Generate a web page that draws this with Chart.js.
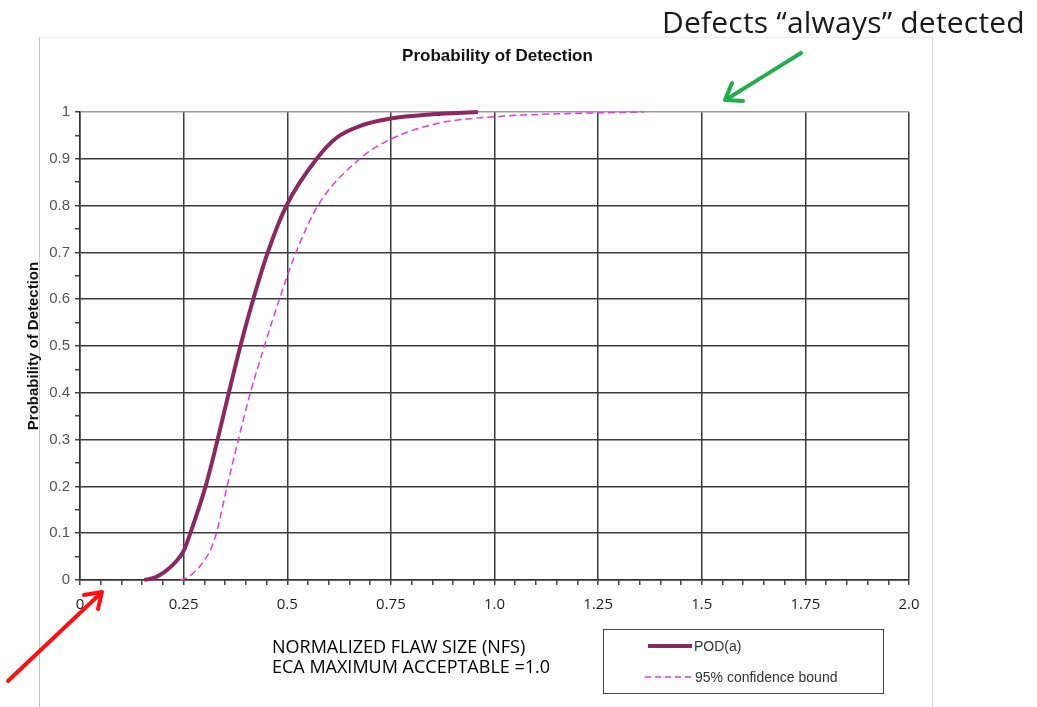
<!DOCTYPE html>
<html>
<head>
<meta charset="utf-8">
<title>Probability of Detection</title>
<script src="https://cdn.jsdelivr.net/npm/chart.js@4.4.1/dist/chart.umd.min.js"></script>
<style>
  body { margin: 0; background: #fff; }
  #wrap { position: relative; width: 1037px; height: 707px; overflow: hidden; background: #fff; }
  #wrap > * { position: absolute; }
  #frame { left: 39px; top: 37px; width: 892px; height: 700px; border-left: 1px solid #c4c4c4; border-top: 1px solid #ececec; border-right: 1px solid #d4d4d4; }
  #podChart { left: 0; top: 0; }
  #title { left: 83px; width: 829px; top: 46px; text-align: center; font: bold 17px/20px Arial, "Liberation Sans", sans-serif; color: #111; }
  #note { left: 662px; top: 7px; font: 30px/30px "Open Sans", sans-serif; letter-spacing: 0.2px; color: #1a1a1a; white-space: nowrap; }
  #nfs { left: 272px; top: 636px; font: 18px/20px "Open Sans", sans-serif; color: #000; white-space: nowrap; }
  #legend { left: 603px; top: 629px; width: 281px; height: 65px; box-sizing: border-box; border: 1.5px solid #444; }
  .lg { font: 14px/16px Arial, "Liberation Sans", sans-serif; color: #333; white-space: nowrap; }
  #lg1 { left: 694px; top: 638px; }
  #lg2 { left: 695px; top: 669px; }
  #marks { left: 0; top: 0; pointer-events: none; }
</style>
</head>
<body>
<div id="wrap">
  <div id="frame"></div>
  <canvas id="podChart" width="1037" height="707"></canvas>
  <div id="title">Probability of Detection</div>
  <div id="note">Defects “always” detected</div>
  <div id="nfs">NORMALIZED FLAW SIZE (NFS)<br>ECA MAXIMUM ACCEPTABLE =1.0</div>
  <div id="legend"></div>
  <div class="lg" id="lg1">POD(a)</div>
  <div class="lg" id="lg2">95% confidence bound</div>
  <svg id="marks" width="1037" height="707">
    <!-- legend samples -->
    <line x1="648" y1="646" x2="692" y2="646" stroke="#8c2860" stroke-width="4"/>
    <line x1="645" y1="677" x2="692" y2="677" stroke="#e03ce0" stroke-width="1.5" stroke-dasharray="6 4"/>
    <!-- arrows -->
    <g fill="none" stroke="#22ad4c" stroke-width="4" stroke-linecap="round" stroke-linejoin="round">
      <line x1="801" y1="53" x2="727" y2="99"/>
      <polyline points="732,83 725,100 743,101"/>
    </g>
    <g fill="none" stroke="#ff1010" stroke-width="4" stroke-linecap="round" stroke-linejoin="round">
      <line x1="8" y1="681" x2="100" y2="594"/>
      <polyline points="84,595 102,592 98,609"/>
    </g>
  </svg>
</div>

<script>
// POD(a) curve: normalized flaw size vs probability of detection
const podSize  = [0.155, 0.18, 0.205, 0.23, 0.25, 0.266, 0.303, 0.332, 0.359, 0.387, 0.418, 0.453, 0.498, 0.571, 0.619, 0.675, 0.75, 0.85, 0.96];
const podValue = [0, 0.005, 0.018, 0.038, 0.062, 0.10, 0.20, 0.30, 0.40, 0.50, 0.60, 0.70, 0.80, 0.90, 0.945, 0.970, 0.986, 0.995, 1.0];

// 95% lower confidence bound
const boundSize  = [0.242, 0.26, 0.28, 0.30, 0.315, 0.329, 0.355, 0.382, 0.411, 0.445, 0.481, 0.521, 0.574, 0.675, 0.75, 0.86, 1.0, 1.15, 1.36];
const boundValue = [0, 0.006, 0.02, 0.042, 0.065, 0.10, 0.20, 0.30, 0.40, 0.50, 0.60, 0.70, 0.80, 0.90, 0.942, 0.975, 0.99, 0.996, 1.0];

// tick labels (major ticks only, minor ticks every 0.05)
const xLabels = ['0', '0.25', '0.5', '0.75', '1.0', '1.25', '1.5', '1.75', '2.0'];
const yLabels = ['0', '0.1', '0.2', '0.3', '0.4', '0.5', '0.6', '0.7', '0.8', '0.9', '1'];

const toPoints = (xs, ys) => xs.map((x, i) => ({ x: x, y: ys[i] }));

// index of major tick, or -1 for a minor one
function majorIndex(value, step) {
  const k = value / step;
  return Math.abs(k - Math.round(k)) < 1e-6 ? Math.round(k) : -1;
}

const podChart = new Chart(document.getElementById('podChart'), {
  type: 'line',
  data: {
    datasets: [
      {
        label: 'POD(a)',
        data: toPoints(podSize, podValue),
        borderColor: '#8c2860',
        borderWidth: 4,
        pointRadius: 0,
        cubicInterpolationMode: 'monotone',
        clip: false,
      },
      {
        label: '95% confidence bound',
        data: toPoints(boundSize, boundValue),
        borderColor: '#e03ce0',
        borderWidth: 1.5,
        borderDash: [7, 4],
        pointRadius: 0,
        cubicInterpolationMode: 'monotone',
        clip: false,
      },
    ],
  },
  options: {
    responsive: false,
    animation: false,
    layout: { padding: { left: 21, top: 112, right: 128, bottom: 0 } },
    plugins: {
      legend: { display: false },
      title: { display: false },
      tooltip: { enabled: false },
    },
    scales: {
      x: {
        type: 'linear',
        min: 0,
        max: 2,
        afterFit: (scale) => {
          scale.height = 127;
          scale.paddingLeft = 0;
          scale.paddingRight = 0;
        },
        ticks: {
          stepSize: 0.05,
          autoSkip: false,
          maxRotation: 0,
          padding: 11,
          color: '#1e1e1e',
          font: { family: '"Open Sans"', size: 15 },
          callback: (value) => {
            const i = majorIndex(value, 0.25);
            return i >= 0 ? xLabels[i] : '';
          },
        },
        grid: {
          color: (ctx) => majorIndex(ctx.tick.value, 0.25) >= 0 ? '#3a3a3a' : 'rgba(0,0,0,0)',
          tickColor: '#444',
          lineWidth: 1.5,
          tickLength: 5,
        },
        border: { color: '#333', width: 1.5 },
      },
      y: {
        min: 0,
        max: 1,
        afterFit: (scale) => {
          scale.width = 59;
          scale.paddingTop = 0;
          scale.paddingBottom = 0;
        },
        ticks: {
          stepSize: 0.05,
          autoSkip: false,
          padding: 5,
          color: '#555',
          font: { family: 'Arial', size: 15 },
          callback: (value) => {
            const i = majorIndex(value, 0.1);
            return i >= 0 ? yLabels[i] : '';
          },
        },
        grid: {
          color: (ctx) => {
            const i = majorIndex(ctx.tick.value, 0.1);
            if (i < 0) return 'rgba(0,0,0,0)';
            return i === 10 ? '#9a9a9a' : '#3a3a3a';
          },
          tickColor: '#444',
          lineWidth: 1.5,
          tickLength: 5,
        },
        border: { color: '#333', width: 1.5 },
        title: {
          display: true,
          text: 'Probability of Detection',
          color: '#111',
          font: { family: 'Arial', size: 15, weight: 'bold' },
        },
      },
    },
  },
});
</script>
</body>
</html>
